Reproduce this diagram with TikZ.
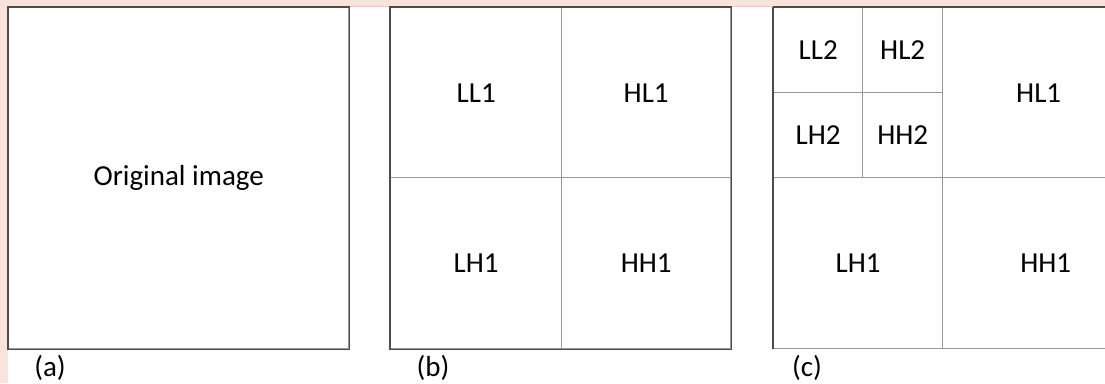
\documentclass[tikz,border=0pt]{standalone}
\usepackage{fontspec}
\setmainfont{Carlito}
\usetikzlibrary{positioning}
\definecolor{peach}{RGB}{248,228,220}
\definecolor{rim}{RGB}{240,200,190}

\begin{document}
\begin{tikzpicture}[
            x=1pt, y=1pt,
            frame/.style={draw=black!70, line width=1.4pt},
            cell/.style={draw=black!40, line width=1.4pt, inner sep=0pt, anchor=north west,
                         font=\fontsize{29}{32}\selectfont},
            tag/.style={inner sep=0pt, font=\fontsize{29}{32}\selectfont}
          ]
            \useasboundingbox (0,0) rectangle (1105,383);
            \fill[peach] (0,0) rectangle (1105,383);
            \fill[white] (8,0) rectangle (1105,376);
            \draw[rim, line width=1pt] (8,376.5) -- (1105,376.5);

            % (a) original
            \node[cell, minimum width=340, minimum height=341] (orig) at (8,376) {Original image};
            \draw[frame] (orig.south west) rectangle (orig.north east);
            \node[tag] (taga) at (50,15) {(a)};

            % (b) one level
            \node[cell, minimum width=171, minimum height=170] (ll1) at (390,376) {LL1};
            \node[cell, minimum width=169, minimum height=170] (hl1) at (561,376) {HL1};
            \node[cell, minimum width=171, minimum height=171] (lh1) at (390,206) {LH1};
            \node[cell, minimum width=169, minimum height=171] (hh1) at (561,206) {HH1};
            \draw[frame] (ll1.north west) rectangle (hh1.south east);
            \node[tag] (tagb) at (433,15) {(b)};

            % (c) two levels
            \node[cell, minimum width=89, minimum height=85] (ll2) at (773,376) {LL2};
            \node[cell, minimum width=80, minimum height=85] (hl2) at (862,376) {HL2};
            \node[cell, minimum width=89, minimum height=85] (lh2) at (773,291) {LH2};
            \node[cell, minimum width=80, minimum height=85] (hh2) at (862,291) {HH2};
            \node[cell, minimum width=192, minimum height=170] (hl1c) at (942,376) {HL1};
            \node[cell, minimum width=169, minimum height=171] (lh1c) at (773,206) {LH1};
            \node[cell, minimum width=206, minimum height=171] (hh1c) at (942,206) {HH1};
            \draw[frame] (ll2.north west) -- (hl1c.north east);
            \draw[frame] (ll2.north west) -- (lh1c.south west);
            \node[tag] (tagc) at (807,15) {(c)};
          \end{tikzpicture}
\end{document}
